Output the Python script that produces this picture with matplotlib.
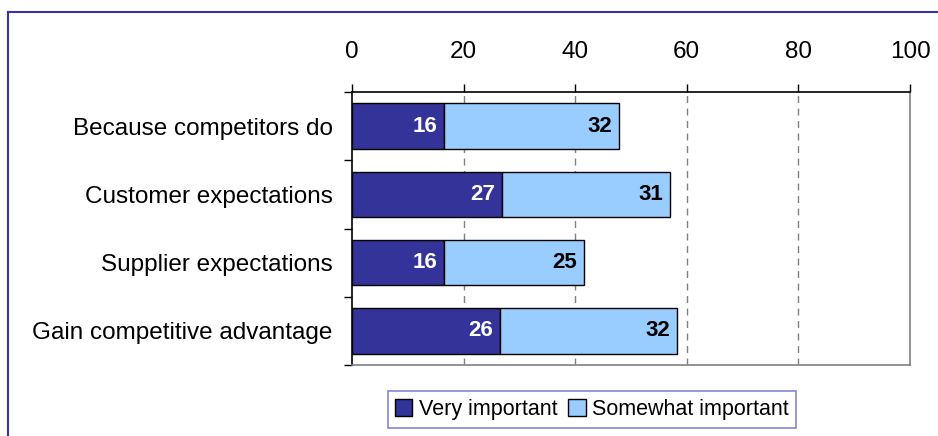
import matplotlib
matplotlib.use("Agg")
import matplotlib.pyplot as plt
from matplotlib.lines import Line2D
import numpy as np

plt.rcParams['font.family'] = ['Liberation Sans', 'DejaVu Sans']

categories = ["Because competitors do", "Customer expectations",
              "Supplier expectations", "Gain competitive advantage"]
# bar lengths
very_important = [16.5, 26.9, 16.5, 26.5]
somewhat_important = [31.4, 30.1, 25.0, 31.8]
# printed value labels
very_labels = ["16", "27", "16", "26"]
somewhat_labels = ["32", "31", "25", "32"]
xticks = [0, 20, 40, 60, 80, 100]

dark = "#333399"
light = "#99CCFF"

fig = plt.figure(figsize=(9.38, 4.36), dpi=100)
ax = fig.add_axes([352/938, 1-365/436, (910-352)/938, (365-92)/436])

y = np.arange(len(categories))
ax.barh(y, very_important, height=0.67, color=dark, edgecolor="black", linewidth=1, label="Very important", zorder=3)
ax.barh(y, somewhat_important, left=very_important, height=0.67, color=light, edgecolor="black", linewidth=1, label="Somewhat important", zorder=3)

for i in range(len(categories)):
    ax.annotate(very_labels[i], (very_important[i], y[i]), xytext=(-5, 0),
                textcoords="offset points", ha="right", va="center",
                color="white", fontsize=16, fontweight="bold", zorder=4)
    ax.annotate(somewhat_labels[i], (very_important[i] + somewhat_important[i], y[i]), xytext=(-5, 0),
                textcoords="offset points", ha="right", va="center",
                color="black", fontsize=16, fontweight="bold", zorder=4)

ax.set_xlim(0, 100)
ax.set_ylim(len(categories) - 0.5, -0.5)
ax.xaxis.tick_top()
ax.set_xticks(xticks)
ax.set_xticklabels([str(t) for t in xticks])
ax.tick_params(axis="x", direction="out", length=6, width=1, pad=15, labelsize=17.5, color="black")

ax.set_yticks(y)
ax.set_yticklabels(categories)
ax.set_yticks(np.arange(-0.5, len(categories), 1.0), minor=True)
ax.tick_params(axis="y", which="major", length=0, pad=14, labelsize=17.5)
ax.tick_params(axis="y", which="minor", length=6, width=1, direction="out", color="black")

for xv in xticks[1:-1]:
    ax.axvline(xv, color="#808080", linestyle=(0, (5, 4)), linewidth=1, zorder=1)

ax.spines["top"].set_color("black")
ax.spines["left"].set_color("black")
ax.spines["right"].set_color("#808080")
ax.spines["bottom"].set_color("#808080")
for s in ax.spines.values():
    s.set_linewidth(1.2)

leg = fig.legend(loc="center", bbox_to_anchor=(592/938, 1-409.5/436), ncol=2,
                 fontsize=15.5, frameon=True, fancybox=False, handlelength=0.8,
                 handleheight=0.8, handletextpad=0.3, columnspacing=0.5,
                 borderpad=0.35, borderaxespad=0)
leg.get_frame().set_edgecolor("#6666CC")
leg.get_frame().set_linewidth(1.2)

# outer frame (only top and left visible)
fig.add_artist(Line2D([8/938, 8/938], [0, 1-12/436], transform=fig.transFigure, color="#3333AA", linewidth=1.5))
fig.add_artist(Line2D([8/938, 1], [1-12/436, 1-12/436], transform=fig.transFigure, color="#3333AA", linewidth=1.5))

fig.savefig("out.png", dpi=100)
